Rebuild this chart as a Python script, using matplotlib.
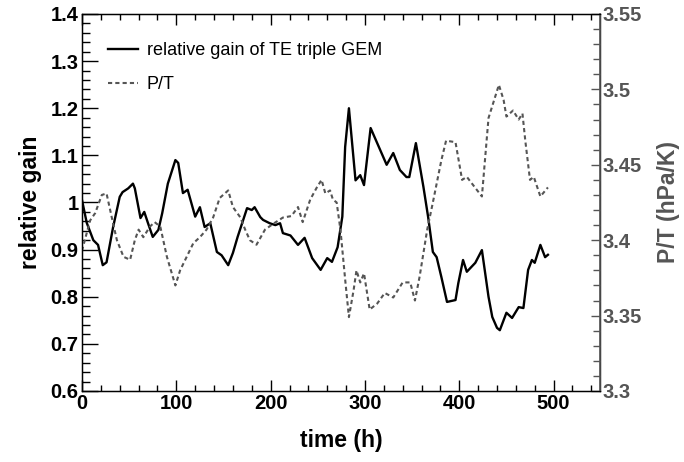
import matplotlib
matplotlib.use("Agg")
import matplotlib.pyplot as plt
from matplotlib.ticker import MultipleLocator

plt.rcParams["font.family"] = ["Liberation Sans", "DejaVu Sans"]

# relative gain (sol eksen)
t_gain = [0, 5, 12, 17, 22, 26, 33, 40, 43, 49, 54, 56, 62, 66, 70, 75, 81, 85, 91, 99,
          102, 107, 112, 120, 125, 130, 136, 143, 148, 155, 160, 165, 175, 180, 183, 189,
          192, 199, 205, 210, 213, 221, 229, 236, 244, 253, 260, 265, 271, 276, 279, 283,
          290, 295, 299, 306, 323, 330, 337, 344, 347, 354, 362, 367, 372, 376, 381, 387,
          396, 399, 404, 408, 417, 424, 431, 435, 440, 443, 450, 456, 463, 468, 473, 477,
          480, 486, 491, 494]
gain = [1.005, 0.957, 0.92, 0.91, 0.867, 0.873, 0.948, 1.012, 1.022, 1.03, 1.04, 1.03,
        0.967, 0.98, 0.956, 0.927, 0.942, 0.977, 1.04, 1.09, 1.084, 1.02, 1.027, 0.97,
        0.99, 0.948, 0.956, 0.895, 0.888, 0.867, 0.893, 0.927, 0.988, 0.984, 0.99, 0.969,
        0.963, 0.956, 0.952, 0.956, 0.935, 0.93, 0.91, 0.925, 0.882, 0.857, 0.882, 0.874,
        0.905, 0.97, 1.118, 1.2, 1.047, 1.058, 1.037, 1.158, 1.08, 1.105, 1.069, 1.054,
        1.054, 1.126, 1.033, 0.969, 0.895, 0.884, 0.842, 0.789, 0.793, 0.829, 0.878, 0.853,
        0.872, 0.899, 0.80, 0.757, 0.734, 0.729, 0.766, 0.755, 0.778, 0.776, 0.857, 0.878,
        0.872, 0.91, 0.884, 0.889]

# P/T (sag eksen)
t_pt = [0, 8.5, 14, 21, 26, 33, 37, 44, 51, 56, 60, 65, 72, 77, 83, 90, 99, 104, 111, 118,
        125, 132, 139, 146, 155, 160, 168, 173, 178, 185, 194, 203, 213, 222, 229, 234,
        242, 249, 254, 258, 263, 266, 270, 274, 279, 283, 288, 291, 295, 299, 305, 313,
        321, 330, 340, 348, 353, 358, 366, 372, 381, 386, 396, 403, 408, 424, 431, 436,
        442, 447, 450, 457, 463, 467, 470, 475, 479, 486, 494]
pt = [3.393, 3.413, 3.418, 3.430, 3.431, 3.411, 3.400, 3.389, 3.387, 3.400, 3.407, 3.402,
      3.409, 3.412, 3.409, 3.389, 3.370, 3.380, 3.389, 3.398, 3.402, 3.407, 3.415, 3.428,
      3.433, 3.422, 3.415, 3.407, 3.400, 3.397, 3.407, 3.411, 3.415, 3.416, 3.422, 3.412,
      3.427, 3.435, 3.440, 3.431, 3.433, 3.427, 3.425, 3.407, 3.374, 3.349, 3.367, 3.380,
      3.372, 3.378, 3.354, 3.358, 3.365, 3.362, 3.372, 3.372, 3.360, 3.376, 3.407, 3.425,
      3.453, 3.466, 3.465, 3.440, 3.442, 3.429, 3.481, 3.491, 3.503, 3.493, 3.482, 3.486,
      3.480, 3.484, 3.466, 3.440, 3.442, 3.429, 3.435]

gray = "#555555"
tick_fs = 14.5
title_fs = 16.5

fig = plt.figure(figsize=(6.84, 4.62), dpi=100)
ax = fig.add_axes([0.1199, 0.1537, 0.757, 0.816])
ax2 = ax.twinx()

l1, = ax.plot(t_gain, gain, color="black", lw=1.7)
l2, = ax2.plot(t_pt, pt, color=gray, lw=1.5, ls=(0, (2.0, 1.5)))

ax.set_xlim(0, 549)
ax.set_ylim(0.6, 1.4)
ax2.set_ylim(3.3, 3.55)

ax.xaxis.set_major_locator(MultipleLocator(100))
ax.xaxis.set_minor_locator(MultipleLocator(20))
ax.yaxis.set_major_locator(MultipleLocator(0.1))
ax.yaxis.set_minor_locator(MultipleLocator(0.02))
ax2.yaxis.set_major_locator(MultipleLocator(0.05))
ax2.yaxis.set_minor_locator(MultipleLocator(0.01))

ax.tick_params(axis="x", which="major", direction="in", length=8, width=1, top=True, pad=2)
ax.tick_params(axis="x", which="minor", direction="in", length=4, width=1, top=True)
ax.tick_params(axis="y", which="major", direction="in", length=11.5, width=1, right=False, pad=2.5)
ax.tick_params(axis="y", which="minor", direction="in", length=5.8, width=1, right=False)
ax2.tick_params(axis="y", which="major", direction="in", length=6.5, width=1, color=gray,
                labelcolor=gray, pad=2)
ax2.tick_params(axis="y", which="minor", direction="in", length=5, width=1, color=gray)

ax.set_yticklabels([f"{v:g}" for v in ax.get_yticks()])
ax2.set_yticklabels([f"{v:g}" for v in ax2.get_yticks()])

for lab in ax.get_xticklabels() + ax.get_yticklabels() + ax2.get_yticklabels():
    lab.set_fontsize(tick_fs)
    lab.set_fontweight("bold")

for sp in ax.spines.values():
    sp.set_linewidth(1)
ax2.spines["right"].set_color(gray)
ax2.spines["right"].set_linewidth(1.2)

ax.set_xlabel("time (h)", fontsize=title_fs, fontweight="bold", labelpad=12)
ax.set_ylabel("relative gain", fontsize=title_fs, fontweight="bold", labelpad=6)
ax2.set_ylabel("P/T (hPa/K)", fontsize=title_fs, fontweight="bold", color=gray, labelpad=11)

ax.legend([l1, l2], ["relative gain of TE triple GEM", "P/T"], loc="upper left",
          bbox_to_anchor=(0.019, 0.968), frameon=False, fontsize=13, handlelength=1.65,
          handletextpad=0.5, labelspacing=0.92)

fig.savefig("out.png", dpi=100)
